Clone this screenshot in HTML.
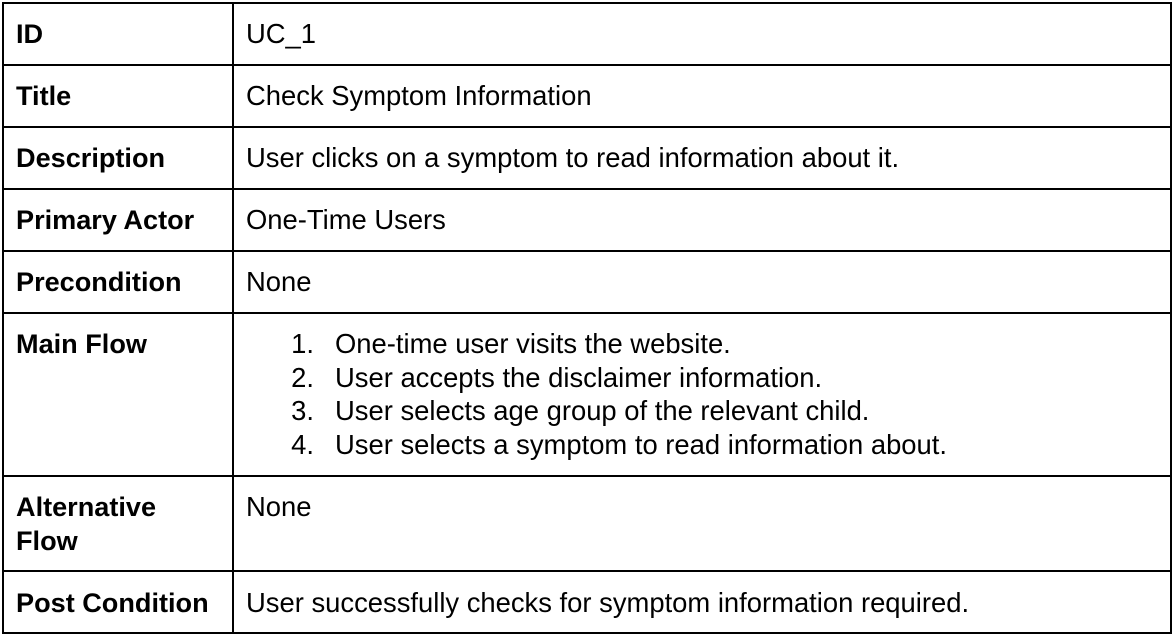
<!DOCTYPE html>
<html><head><meta charset="utf-8"><style>
body{margin:0;width:1174px;height:635px;background:#fff;position:relative;overflow:hidden;font-family:"Liberation Sans",Arial,Helvetica,sans-serif;color:#000}
.h{position:absolute;left:2px;width:1170px;height:2px;background:#000}
.v{position:absolute;width:2px;background:#000}
.t{position:absolute;font-size:27.4px;line-height:34px;white-space:nowrap}
.b{font-weight:bold;left:16px;font-size:27.1px}
.r{left:246px}
.n{position:absolute;font-size:27.4px;line-height:34px;width:40px;text-align:right;left:274px}
.li{position:absolute;font-size:27.4px;line-height:34px;left:335px;white-space:nowrap}
</style></head><body>
<div class="h" style="top:2px"></div>
<div class="h" style="top:64px"></div>
<div class="h" style="top:126px"></div>
<div class="h" style="top:188px"></div>
<div class="h" style="top:250px"></div>
<div class="h" style="top:312px"></div>
<div class="h" style="top:475px"></div>
<div class="h" style="top:570px"></div>
<div class="h" style="top:632px"></div>
<div class="v" style="left:2px;top:2px;height:632px"></div>
<div class="v" style="left:232px;top:2px;height:632px"></div>
<div class="v" style="left:1170px;top:2px;height:632px"></div>

<div class="t b" style="top:17px">ID</div>
<div class="t r" style="top:17px">UC_1</div>
<div class="t b" style="top:79px">Title</div>
<div class="t r" style="top:79px">Check Symptom Information</div>
<div class="t b" style="top:141px">Description</div>
<div class="t r" style="top:141px">User clicks on a symptom to read information about it.</div>
<div class="t b" style="top:203px">Primary Actor</div>
<div class="t r" style="top:203px">One-Time Users</div>
<div class="t b" style="top:265px">Precondition</div>
<div class="t r" style="top:265px">None</div>
<div class="t b" style="top:327px">Main Flow</div>
<div class="n" style="top:327px">1.</div>
<div class="li" style="top:327px">One-time user visits the website.</div>
<div class="n" style="top:361px">2.</div>
<div class="li" style="top:361px">User accepts the disclaimer information.</div>
<div class="n" style="top:394px">3.</div>
<div class="li" style="top:394px">User selects age group of the relevant child.</div>
<div class="n" style="top:428px">4.</div>
<div class="li" style="top:428px">User selects a symptom to read information about.</div>
<div class="t b" style="top:490px">Alternative<br>Flow</div>
<div class="t r" style="top:490px">None</div>
<div class="t b" style="top:586px">Post Condition</div>
<div class="t r" style="top:586px">User successfully checks for symptom information required.</div>
</body></html>
